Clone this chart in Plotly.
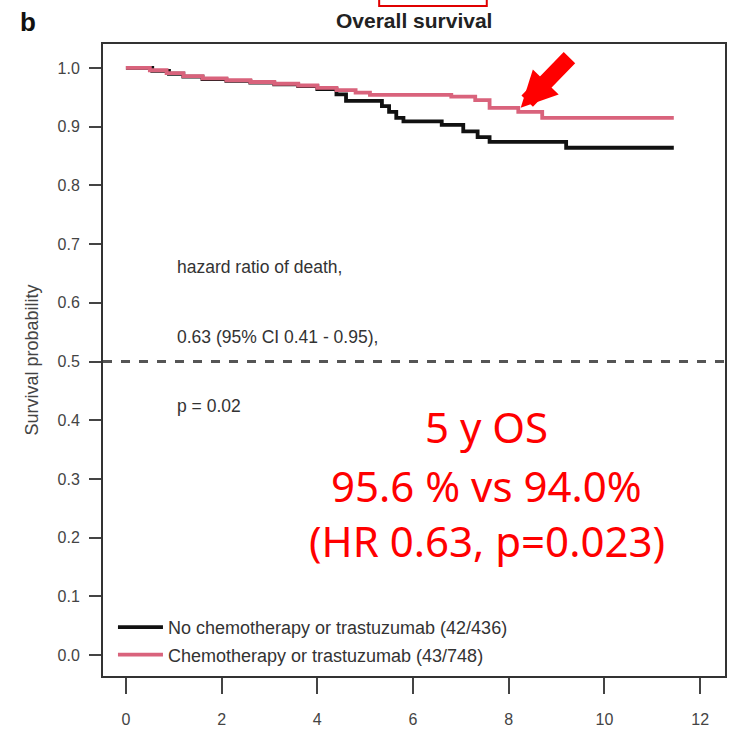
import plotly.graph_objects as go

# ---------------- data ----------------
times_no = [0, 0.55, 0.9, 1.2, 1.6, 2.1, 2.6, 3.1, 3.6, 4.0, 4.4, 4.6, 5.35, 5.5, 5.65, 5.8, 6.6, 7.05, 7.35, 7.6, 9.2, 11.45]
surv_no = [1.0, 0.995, 0.99, 0.985, 0.981, 0.978, 0.975, 0.972, 0.969, 0.964, 0.955, 0.944, 0.935, 0.925, 0.915, 0.909, 0.903, 0.892, 0.882, 0.874, 0.864, 0.864]

times_ch = [0, 0.5, 0.85, 1.2, 1.6, 2.1, 2.6, 3.1, 3.6, 4.0, 4.4, 4.8, 5.1, 6.8, 7.3, 7.6, 8.2, 8.7, 11.45]
surv_ch = [1.0, 0.996, 0.991, 0.986, 0.982, 0.979, 0.976, 0.973, 0.970, 0.966, 0.962, 0.958, 0.954, 0.951, 0.945, 0.932, 0.925, 0.915, 0.915]

series_names = ["No chemotherapy or trastuzumab (42/436)", "Chemotherapy or trastuzumab (43/748)"]
x_ticks = [0, 2, 4, 6, 8, 10, 12]
y_ticks = [0.0, 0.1, 0.2, 0.3, 0.4, 0.5, 0.6, 0.7, 0.8, 0.9, 1.0]
median_level = 0.5

stat_lines = ["hazard ratio of death,", "0.63 (95% CI 0.41 - 0.95),", "p = 0.02"]
stat_y = [0.661, 0.542, 0.424]
red_lines = ["5 y OS", "95.6 % vs 94.0%", "(HR 0.63, p=0.023)"]
red_y = [0.39, 0.288, 0.195]

BLACK = "#111111"
PINK = "#d9637c"
FONT = "Liberation Sans, Arial, sans-serif"

fig = go.Figure()
fig.add_trace(go.Scatter(x=times_no, y=surv_no, mode="lines", line=dict(color=BLACK, width=3.8, shape="hv"),
                         name=series_names[0], legendgroup="a"))
fig.add_trace(go.Scatter(x=times_ch, y=surv_ch, mode="lines", line=dict(color=PINK, width=3.8, shape="hv"),
                         name=series_names[1], legendgroup="b"))

# dashed median line
fig.add_shape(type="line", xref="paper", x0=0, x1=1, yref="y", y0=median_level, y1=median_level,
              line=dict(color="#555555", width=3, dash="dash"))

# stats text
for txt, yy in zip(stat_lines, stat_y):
    fig.add_annotation(x=1.02, y=yy, xref="x", yref="y", text=txt, showarrow=False,
                       xanchor="left", yanchor="middle", font=dict(family=FONT, size=17.5, color="#333333"))

# red text
for txt, yy in zip(red_lines, red_y):
    fig.add_annotation(x=7.54, y=yy, xref="x", yref="y", text=txt, showarrow=False,
                       xanchor="center", yanchor="middle",
                       font=dict(family="Noto Sans, Open Sans, sans-serif", size=42, color="#ff0000"))

# red arrow
fig.add_annotation(x=8.25, y=0.932, xref="x", yref="y", ax=9.3, ay=1.02, axref="x", ayref="y",
                   text="", showarrow=True, arrowhead=2, arrowsize=0.45, arrowwidth=16, arrowcolor="#ff0000")

# red box at top (cropped)
fig.add_shape(type="rect", xref="paper", yref="paper", x0=0.444, x1=0.617, y0=1.06, y1=1.1,
              line=dict(color="#e00000", width=2), fillcolor="rgba(0,0,0,0)")

# title and panel label
fig.add_annotation(x=0.5, y=1.0 + 24 / 635, xref="paper", yref="paper", text="<b>Overall survival</b>",
                   showarrow=False, xanchor="center", yanchor="middle",
                   font=dict(family=FONT, size=21, color="#222222"))
fig.add_annotation(x=-75 / 624, y=1.0 + 22 / 635, xref="paper", yref="paper", text="<b>b</b>",
                   showarrow=False, xanchor="center", yanchor="middle",
                   font=dict(family=FONT, size=26, color="#111111"))

fig.update_layout(
    width=732, height=733,
    margin=dict(l=103, r=5, t=44, b=54),
    paper_bgcolor="white", plot_bgcolor="white",
    showlegend=True,
    legend=dict(x=10 / 624, y=3 / 635, xanchor="left", yanchor="bottom", bgcolor="rgba(0,0,0,0)",
                font=dict(family=FONT, size=18, color="#333333"), itemwidth=45, tracegroupgap=1),
    xaxis=dict(range=[-0.479, 12.52], tickvals=x_ticks, ticks="outside", ticklen=16, tickwidth=2,
               tickcolor="#444444", showline=True, linecolor="#333333", linewidth=2, mirror=True,
               showgrid=False, zeroline=False, ticklabelstandoff=12,
               tickfont=dict(family=FONT, size=16, color="#444444")),
    yaxis=dict(range=[-0.0356, 1.0407], tickvals=y_ticks, tickformat=".1f", ticks="outside", ticklen=12,
               tickwidth=2, tickcolor="#444444", showline=True, linecolor="#333333", linewidth=2, mirror=True,
               showgrid=False, zeroline=False, ticklabelstandoff=6,
               tickfont=dict(family=FONT, size=16, color="#444444"),
               title=dict(text="Survival probability", standoff=14, font=dict(family=FONT, size=18, color="#444444"))),
)

fig.write_html("out.html")
